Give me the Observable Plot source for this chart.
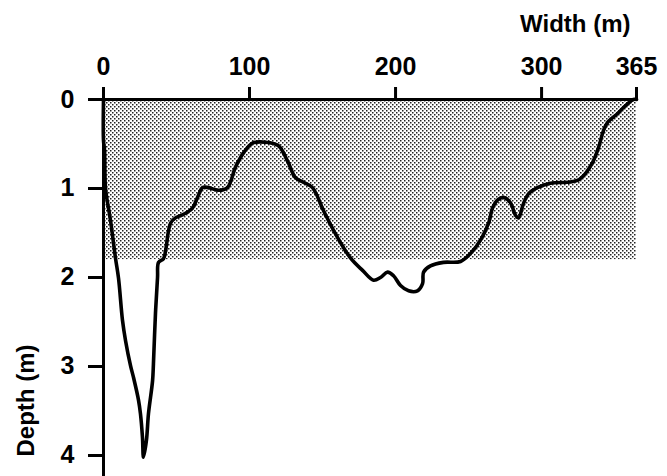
<!DOCTYPE html>
<html><head><meta charset="utf-8">
<script src="https://cdn.jsdelivr.net/npm/d3@7"></script>
<script src="https://cdn.jsdelivr.net/npm/@observablehq/plot@0.6"></script>
<style>body{margin:0;background:#fff}</style>
</head><body><div id="chart"></div>
<script>
const widthTicks = [0, 100, 200, 300, 365];
const depthTicks = [0, 1, 2, 3, 4];
const shadedDepth = 1.8;
const channelWidth = 365;

const profileWidth = [0, 0, 0.7, 1.4, 4.8, 8.2, 10.3, 13.0, 15.1, 18.5, 20.5, 24.0, 25.3, 26.7, 27.4,
  29.4, 30.8, 33.6, 34.2, 35.6, 37.0, 37.7, 41.1, 42.5, 45.9, 49.3, 54.8, 60.9, 64.4, 67.8, 71.9,
  78.8, 84.9, 90.4, 95.9, 102.0, 110.9, 119.8, 126.0, 131.5, 136.9, 143.1, 150.7, 158.9, 169.1,
  177.4, 184.9, 189.7, 194.5, 198.6, 203.4, 208.9, 215.0, 218.5, 219.2, 223.9, 232.8, 244.5,
  251.3, 258.2, 263.7, 266.4, 269.8, 273.9, 278.7, 282.1, 284.2, 287.6, 291.0, 297.2, 306.1,
  317.7, 324.6, 330.1, 334.9, 339.0, 342.4, 345.1, 351.9, 356.1, 362.9, 365];
const profileDepth = [0, 0.46, 0.57, 1.0, 1.36, 1.78, 2.01, 2.48, 2.71, 2.99, 3.12, 3.38, 3.53, 3.80, 4.02,
  3.83, 3.53, 3.16, 2.97, 2.40, 2.0, 1.83, 1.79, 1.70, 1.39, 1.33, 1.29, 1.22, 1.10, 0.99, 0.99,
  1.02, 0.99, 0.76, 0.60, 0.49, 0.48, 0.52, 0.69, 0.88, 0.93, 0.99, 1.25, 1.51, 1.78,
  1.92, 2.03, 2.0, 1.94, 1.98, 2.09, 2.15, 2.15, 2.07, 1.94, 1.87, 1.83, 1.82,
  1.73, 1.58, 1.39, 1.22, 1.13, 1.10, 1.16, 1.30, 1.33, 1.17, 1.06, 0.99, 0.94,
  0.93, 0.91, 0.83, 0.71, 0.54, 0.35, 0.26, 0.16, 0.09, 0, 0];

const profile = profileWidth.map((x, i) => ({x, y: profileDepth[i]}));
const shaded = [{x1: 0, x2: channelWidth, y1: 0, y2: shadedDepth}];

const font = "'Liberation Sans', Arial, Helvetica, sans-serif";

const plot = Plot.plot({
  width: 667,
  height: 476,
  marginTop: 99,
  marginLeft: 103,
  marginRight: 31,
  marginBottom: 0,
  style: {fontFamily: font, fontSize: "25px", fontWeight: "bold", color: "#000", background: "#fff", overflow: "visible"},
  x: {type: "linear", domain: [0, channelWidth], label: null},
  y: {type: "linear", domain: [0, 4.236], reverse: true, label: null},
  marks: [
    Plot.rect(shaded, {x1: "x1", x2: "x2", y1: "y1", y2: "y2", fill: "url(#stipple)"}),
    Plot.line(profile, {x: "x", y: "y", stroke: "#000", strokeWidth: 3.6, curve: "catmull-rom", strokeLinejoin: "round"}),
    Plot.ruleY([0], {stroke: "#000", strokeWidth: 3}),
    Plot.ruleX([0], {stroke: "#000", strokeWidth: 3}),
    Plot.axisX(widthTicks, {anchor: "top", tickSize: 13, tickPadding: 12, strokeWidth: 3, fontSize: 25, label: null, tickFormat: d => String(d)}),
    Plot.axisY(depthTicks, {anchor: "left", tickSize: 15, tickPadding: 14, strokeWidth: 3, fontSize: 25, label: null, tickFormat: d => String(d)}),
    Plot.text(["Width (m)"], {text: d => d, frameAnchor: "top-right", dx: -6, dy: -75, textAnchor: "end", lineAnchor: "middle", fontSize: 24}),
    Plot.text(["Depth (m)"], {text: d => d, frameAnchor: "bottom-left", dx: -77, dy: -76, rotate: -90, textAnchor: "middle", lineAnchor: "middle", fontSize: 24})
  ]
});

const svg = d3.select(plot);
const pat = svg.insert("defs", ":first-child").append("pattern")
  .attr("id", "stipple").attr("patternUnits", "userSpaceOnUse")
  .attr("width", 4).attr("height", 4);
pat.append("rect").attr("width", 4).attr("height", 4).attr("fill", "#fff");
pat.append("rect").attr("x", 0).attr("y", 0).attr("width", 1.5).attr("height", 1.5).attr("fill", "#222");
pat.append("rect").attr("x", 2).attr("y", 2).attr("width", 1.5).attr("height", 1.5).attr("fill", "#222");

document.getElementById("chart").appendChild(plot);
</script>
</body></html>
